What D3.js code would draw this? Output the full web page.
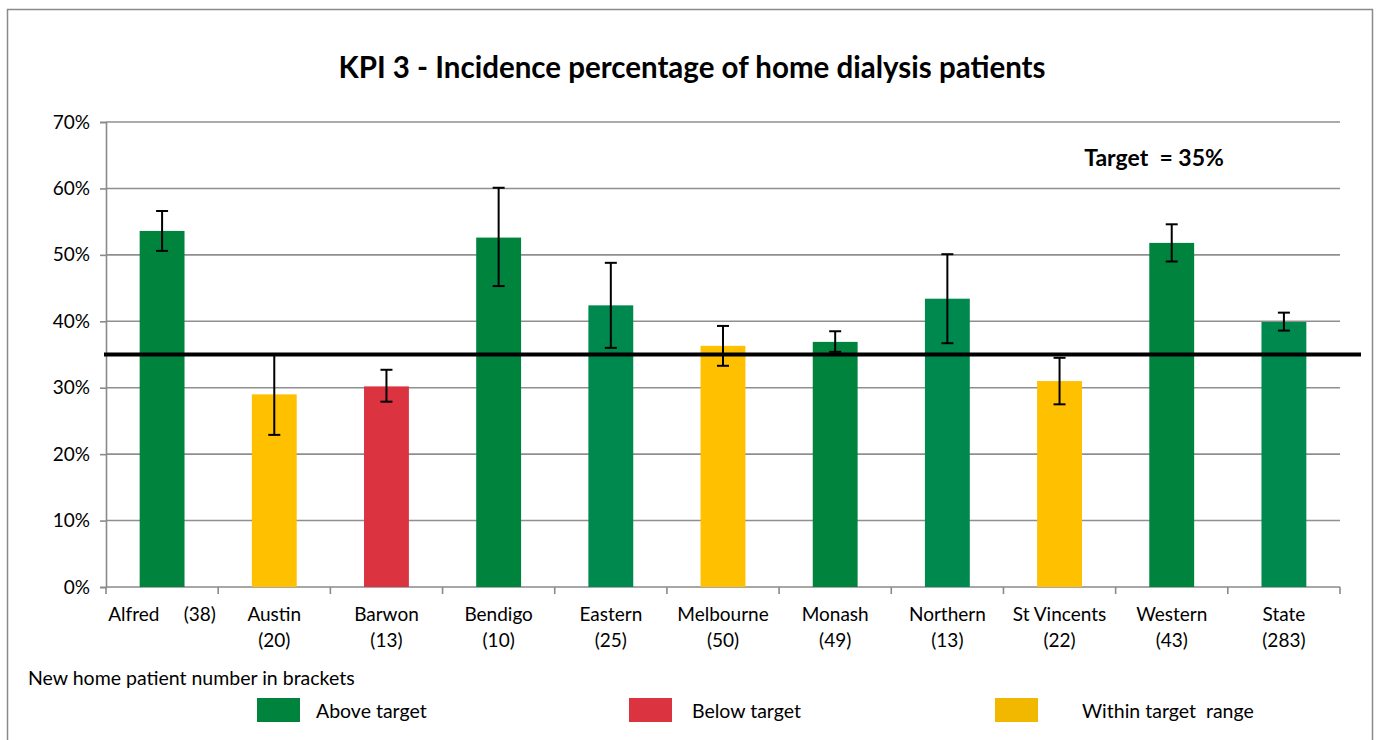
<!DOCTYPE html>
<html>
<head>
<meta charset="utf-8">
<script src="https://cdn.jsdelivr.net/npm/d3@7"></script>
<style>
  body { margin: 0; background: #fff; }
  text { font-family: Lato, "Open Sans", sans-serif; fill: #000; }
</style>
</head>
<body>
<script>
// chart data
var categories = ["Alfred", "Austin", "Barwon", "Bendigo", "Eastern", "Melbourne", "Monash", "Northern", "St Vincents", "Western", "State"];
var counts = [38, 20, 13, 10, 25, 50, 49, 13, 22, 43, 283];
var values = [53.6, 29.0, 30.2, 52.6, 42.4, 36.3, 36.9, 43.4, 31.0, 51.8, 39.9];
var errLow = [50.6, 22.9, 27.9, 45.3, 36.0, 33.3, 35.4, 36.7, 27.5, 49.0, 38.6];
var errHigh = [56.6, 35.0, 32.7, 60.1, 48.8, 39.3, 38.5, 50.1, 34.5, 54.6, 41.3];
var barStatus = ["above", "within", "below", "above", "above2", "within", "above", "above2", "within", "above", "above2"];
var yTicks = [0, 10, 20, 30, 40, 50, 60, 70];
var target = 35;

var legendKeys = ["above", "below", "within"];
var legendLabels = ["Above target", "Below target", "Within target  range"];

var colors = {
    above: "#00843d",
    above2: "#00894f",
    below: "#db3340",
    within: "#ffc000"
};
var legendColors = { above: "#00843d", below: "#db3340", within: "#f2b800" };

var width = 1379;
var height = 740;

var svg = d3.select("body")
    .append("svg")
    .attr("width", width)
    .attr("height", height);

// outer frame
svg.append("rect")
    .attr("x", 7.5)
    .attr("y", 9.5)
    .attr("width", 1365)
    .attr("height", 760)
    .attr("fill", "none")
    .attr("stroke", "#8a8a8a")
    .attr("stroke-width", 1.5);

var plotLeft = 106, plotRight = 1340, plotTop = 122, plotBottom = 587;

var x = d3.scaleBand()
    .domain(categories)
    .range([plotLeft, plotRight])
    .padding(0);

var y = d3.scaleLinear()
    .domain([0, 70])
    .range([plotBottom, plotTop]);

// gridlines
svg.append("g")
    .selectAll("line")
    .data(yTicks.filter(d => d > 0))
    .enter().append("line")
    .attr("x1", plotLeft)
    .attr("x2", plotRight)
    .attr("y1", d => y(d))
    .attr("y2", d => y(d))
    .attr("stroke", "#8f8f8f")
    .attr("stroke-width", 1.6);

// y axis
var yAxis = svg.append("g")
    .attr("transform", "translate(" + plotLeft + ",0)")
    .call(d3.axisLeft(y).tickValues(yTicks).tickSize(6).tickPadding(10).tickFormat(d => d + "%"));
yAxis.selectAll("line, path").attr("stroke", "#8a8a8a").attr("stroke-width", 1.6);
yAxis.selectAll("text").style("font-size", "19px").style("font-family", "Lato, sans-serif").attr("fill", "#000");

// x axis with ticks at band edges
var xAxis = svg.append("g")
    .attr("transform", "translate(0," + plotBottom + ")");
xAxis.append("line")
    .attr("x1", plotLeft).attr("x2", plotRight)
    .attr("stroke", "#8a8a8a").attr("stroke-width", 1.6);
xAxis.selectAll(".tk")
    .data(categories.concat(["end"]))
    .enter().append("line")
    .attr("class", "tk")
    .attr("x1", (d, i) => i < categories.length ? x(d) : plotRight)
    .attr("x2", (d, i) => i < categories.length ? x(d) : plotRight)
    .attr("y1", 0).attr("y2", 7)
    .attr("stroke", "#8a8a8a").attr("stroke-width", 1.6);

var labels = xAxis.selectAll(".lbl")
    .data(categories)
    .enter().append("text")
    .attr("class", "lbl")
    .attr("text-anchor", "middle")
    .style("font-size", "19px")
    .attr("xml:space", "preserve")
    .attr("transform", d => "translate(" + (x(d) + x.bandwidth() / 2) + ",0)");
labels.each(function (d, i) {
    var t = d3.select(this);
    if (d === "Alfred") {
        t.append("tspan").attr("x", 0).attr("y", 34).text(d + "     (" + counts[i] + ")");
    } else {
        t.append("tspan").attr("x", 0).attr("y", 34).text(d);
        t.append("tspan").attr("x", 0).attr("y", 60).text("(" + counts[i] + ")");
    }
});

// bars
var barW = x.bandwidth() * 0.4;
svg.append("g")
    .selectAll("rect")
    .data(categories)
    .enter().append("rect")
    .attr("x", d => x(d) + (x.bandwidth() - barW) / 2)
    .attr("y", (d, i) => y(values[i]))
    .attr("width", barW)
    .attr("height", (d, i) => y(0) - y(values[i]))
    .attr("fill", (d, i) => colors[barStatus[i]]);

// target line
svg.append("line")
    .attr("x1", plotLeft - 2)
    .attr("x2", 1361)
    .attr("y1", y(target))
    .attr("y2", y(target))
    .attr("stroke", "#000")
    .attr("stroke-width", 4);

// error bars
var err = svg.append("g").attr("stroke", "#000").attr("stroke-width", 2);
categories.forEach(function (d, i) {
    var cx = x(d) + x.bandwidth() / 2;
    err.append("line").attr("x1", cx).attr("x2", cx).attr("y1", y(errLow[i])).attr("y2", y(errHigh[i]));
    err.append("line").attr("x1", cx - 6).attr("x2", cx + 6).attr("y1", y(errLow[i])).attr("y2", y(errLow[i]));
    err.append("line").attr("x1", cx - 6).attr("x2", cx + 6).attr("y1", y(errHigh[i])).attr("y2", y(errHigh[i]));
});

// title
svg.append("text")
    .attr("x", 692)
    .attr("y", 78)
    .attr("text-anchor", "middle")
    .style("font-size", "29.5px")
    .style("font-weight", "bold")
    .text("KPI 3 - Incidence percentage of home dialysis patients");

svg.append("text")
    .attr("x", 1154)
    .attr("y", 166)
    .attr("text-anchor", "middle")
    .attr("xml:space", "preserve")
    .style("font-size", "23px")
    .style("font-weight", "bold")
    .text("Target  = " + target + "%");

svg.append("text")
    .attr("x", 28)
    .attr("y", 685)
    .style("font-size", "19.5px")
    .text("New home patient number in brackets");

// legend
var legendX = [257, 629, 995];
var legendTextX = [316, 692, 1082];
legendKeys.forEach(function (k, i) {
    svg.append("rect")
        .attr("x", legendX[i])
        .attr("y", 698)
        .attr("width", 43)
        .attr("height", 24)
        .attr("fill", legendColors[k]);
    svg.append("text")
        .attr("x", legendTextX[i])
        .attr("y", 718)
        .attr("xml:space", "preserve")
        .style("font-size", "19.5px")
        .text(legendLabels[i]);
});
</script>
</body>
</html>
